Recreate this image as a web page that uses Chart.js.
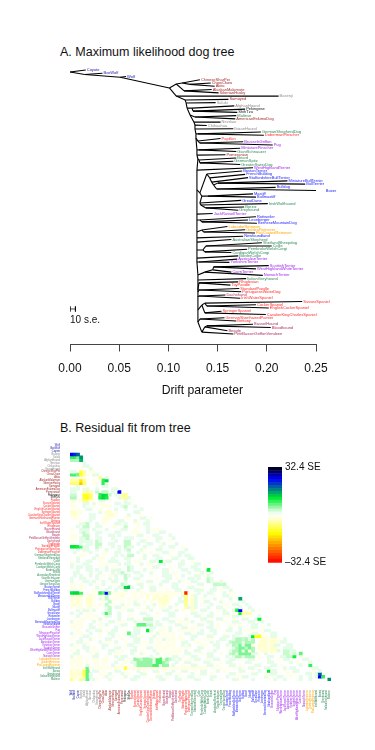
<!DOCTYPE html>
<html>
<head>
<meta charset="utf-8">
<title>Dog tree</title>
<script src="https://cdn.jsdelivr.net/npm/chart.js@4/dist/chart.umd.js"></script>
<style>
html, body { margin: 0; padding: 0; background: #fff; }
canvas { position: absolute; }
.panel { position: absolute; left: 60px; font: 12.5px "Liberation Sans", Arial, sans-serif; color: #111; white-space: nowrap; }
</style>
</head>
<body>
<div class="panel" style="top:45px">A. Maximum likelihood dog tree</div>
<div class="panel" style="top:421px">B. Residual fit from tree</div>
<canvas id="treeChart" width="375" height="410" style="left:0;top:0"></canvas>
<canvas id="heatChart" width="375" height="340" style="left:0;top:410px"></canvas>
<canvas id="barChart" width="115" height="130" style="left:260px;top:450px"></canvas>
<script>
var FONT = '"Liberation Sans", Arial, sans-serif';

// tips, top to bottom in tree order
var tipNames = ["Coyote","BoxWolf","Wolf","ChineseSharPei","ChowChow","Akita","AlaskanMalamute","SiberianHusky","Basenji","Samoyed",
  "Saluki","AfghanHound","Pekingese","ShihTzu","Maltese","AmericanEskimoDog","Nevrlaur","Chihuahua","IbizanHound","GermanShepherdDog",
  "DobermanPinscher","Papillon","BrusselsGriffon","Pug","MiniaturePinscher","GiantSchnauzer","Pomeranian","Briard","GermanSpitz","GreaterSwissDog",
  "WestHighlandTerrier","BostonTerrier","FrenchBulldog","StaffordshireBullTerrier","MiniatureBullTerrier","BullTerrier","Bulldog","Boxer","Mastiff","Bullmastiff",
  "GreatDane","IrishWolfhound","Borzoi","Greyhound","JackRussellTerrier","Rottweiler","Leonberger","BerneseMountainDog","LabradorRetriever","GoldenRetriever",
  "FlatCoatedRetriever","Newfoundland","AustralianShepherd","ShetlandSheepdog","Collie","PembrokeWelshCorgi","CardiganWelshCorgi","BorderCollie","AustralianTerrier","YorkshireTerrier",
  "ScottishTerrier","WestHighlandWhiteTerrier","CairnTerrier","NorwichTerrier","ItalianGreyhound","Rhodesian","ToyPoodle","StandardPoodle","PortugueseWaterDog","Dachshund",
  "IrishWaterSpaniel","SussexSpaniel","CockerSpaniel","EnglishCockerSpaniel","SpringerSpaniel","CavalierKingCharlesSpaniel","GermanShorthairedPointer","Brittany","BassetHound","Bloodhound",
  "Beagle","PetitBassetGriffonVendeen"];
var tipDrift = [.016,.033,.057,.132,.143,.147,.144,.151,.212,.161,
  .148,.167,.178,.170,.169,.168,.153,.139,.166,.194,
  .197,.153,.176,.206,.173,.169,.158,.169,.166,.173,
  .186,.175,.178,.181,.221,.239,.209,.259,.186,.189,
  .174,.201,.177,.171,.145,.189,.181,.190,.160,.178,
  .188,.176,.164,.195,.205,.180,.164,.171,.170,.162,
  .202,.189,.164,.196,.179,.171,.163,.172,.174,.158,
  .173,.236,.189,.202,.154,.199,.157,.169,.186,.204,
  .160,.166];
var tipParent = [0,1,2,5,6,6,7,7,8,9,
  10,12,13,13,15,15,16,17,18,20,
  20,22,23,23,25,25,26,28,29,29,
  30,33,34,35,37,37,38,38,40,40,
  41,42,43,43,44,46,47,47,49,50,
  50,51,52,55,55,56,56,57,59,59,
  63,63,62,61,64,66,66,68,68,70,
  70,73,74,74,75,75,77,77,80,80,
  79,78];
var tipGroup = [0,0,0,1,1,1,1,1,2,1,
  2,2,3,3,4,1,2,2,2,4,
  5,5,7,7,7,4,1,4,4,4,
  7,8,8,8,8,8,8,8,8,8,
  8,4,4,4,7,8,8,8,9,9,
  9,8,4,4,4,4,4,4,7,7,
  7,7,7,7,4,5,5,5,5,6,
  5,5,5,5,5,5,5,5,6,6,
  6,6];
var groupColors = ["#2222aa","#a52a2a","#8c8c8c","#111111","#2e8b57","#ff2a2a","#b03060","#a020f0","#1a1aff","#ffa500"];

// inner nodes of the tree
var nodeDrift = [0,.015,.051,.101,.108,.114,.122,.116,.108,.117,
  .118,.119,.124,.125,.122,.127,.126,.127,.127,.128,
  .130,.128,.130,.132,.129,.131,.129,.130,.131,.132,
  .129,.129,.132,.139,.142,.144,.146,.150,.149,.134,
  .140,.132,.133,.138,.129,.129,.132,.134,.129,.134,
  .136,.129,.129,.129,.135,.138,.137,.129,.129,.131,
  .130,.137,.145,.146,.130,.130,.131,.130,.131,.130,
  .131,.130,.134,.137,.139,.137,.130,.132,.134,.137,
  .139];
var nodeRow = [.6,1.4,2.2,5.5,4.3,4,4.4,6.4,8,9.2,
  10.1,11.7,11.7,12.6,13.8,14.4,16,16.9,18.1,19.6,
  19.6,20.9,21.8,22.4,24.5,24.5,26.1,27.3,27.6,28.5,
  30.7,36.8,37.7,31.9,33.1,34.4,35.3,34.7,36.5,38.7,
  38.7,40.8,41.4,42.3,44.2,46,46,46.6,49.7,49.1,
  49.7,51.5,52.8,55.2,55.2,54,55.8,57.7,58.9,58.9,
  62.9,62,61.3,60.4,64.4,67.5,65.3,68.1,67.5,69.6,
  69.3,73.6,72.1,71.5,72.4,74.5,77.3,76.4,80.4,78.8,
  78.5];
var nodeParent = [-1,0,1,2,3,4,5,4,3,8,
  9,10,11,12,11,14,14,16,17,18,
  19,19,21,22,21,24,24,26,27,28,
  27,30,31,32,33,34,35,36,36,32,
  39,39,41,42,31,44,45,46,45,48,
  49,48,51,52,53,54,54,53,57,58,
  58,60,61,62,60,64,65,65,67,67,
  69,69,71,72,73,72,71,76,76,78,
  79];

var scaleBarDrift = [0, .0055];
var scaleBarRow = 73.3;
var scaleBarText = "10 s.e.";
var scaleTextRow = 76.9;
var driftTicks = [0, .05, .1, .15, .2, .25];
var driftTitle = "Drift parameter";

// residual matrix, rows and columns use this order of tips
var heatOrder = [2,1,0, 8,10,11,16,17,18, 3,4,5,6,7,9,15,26, 12,13,
  21,71,72,73,74,75,76,77,70,65,
  78,79,80,81,69,
  66,67,68,20,
  19,53,54,55,56,57,27,52,25,28,29,
  31,32,33,34,35,36,37,38,39,40,45,46,47,51,
  22,23,24,30,44,58,59,60,61,62,63,
  48,49,50,
  41,42,43,64,14];

// faint background of the matrix: g/h small positive, y/z small negative
var residualLevels = { g: 1.4, h: 3.2, y: -1.5, z: -3.2 };
var residualRows = [
".",
"..",
"...",
"....",
"ggg..",
"ggg...",
"....g..",
"....gg..",
"...y..g..",
"gg..y.yy..",
"....yy.gg..",
"...y.....y.g",
"...yy..y..g..",
".......yy..g..",
"..g.y.....gg...",
"ggg.gg..g....gg.",
"gg..y...h.hh.g...",
"..............gg..",
"...............g.gg",
"yyyy..yy.gg.y....g.yy",
"y...gg.g.yy...gg.gg..g.",
"yy..g..y..yyy...gh..g...",
"..y..gg..y....g..g....gg.",
"zzyy.....g.zz.y.....gg..g.",
"yzy...gg...yzzy...g...y..gg",
"yyy...gg..yzy....yy...gg.y...",
"...y..g...yy...gg...g...g..gg.",
"...ggh..g.y...gg.g..yy.gg.....g",
"..g.hh..gg...yy..h...y..g....gg.",
"y..ggg.g...g....gg..y...g.yy..g..",
"...ghg..gg....gg...yyy..g...gg...g",
"yy..hh..g...gg.g.....gg...gg...gg.",
"yy.ggh..gg...g...ggg....y..gg...g..",
"y..gggg.hg....g..hh...gg...g...y..gg",
"...g.gg.hh..gg...hh..g..gg..yg...g..g",
"....gg..hg...g.g.hgg...g....g..gg..y.g",
"..g.gg..g..g...g.gh...gy...gg...y...gg.",
".g..y.g...yy..gg..g..gy..y...gg...gg...g",
"...yy...g.y...g.g.hh...g..gg...y..g.gg..y",
"..g....g.yy..g...gg...yg...gg...gg...gg..g",
"y.g..gg..y..ggg...g.yy...gg...gg...g..y..gg",
"g...gg....yy...g.gg...g.yy...g....gg...gg..g.",
"g.gg.gg..y.g.yy...hg..y...gg...y..g...gg..y.gg",
"..g..gg.g..g.ggg..hg...g.y...gg....gg..gg...g.g.",
".gg...g..g...g.gh...gg...g...gg.yy...g..yg..gg..y",
".g.g..g.g.y.yyg..hg...g..y...ggg...g...gg.yg..g..y.",
"g..gg...g...g.g..h..gg.....y..gg.y...gg.g..hg...g.yg",
"g...gg.g..g..gg..g...y..gg...gg...gy..gg...hg..g..y..",
"yy.y..g.y.g..y..hg...gg..y..g...gg...y..gg...hhhhg...gg",
"yy.yy...g...g..gg..g..g..gg.y...gg...gg..y...g..gg.yy..y",
"...y...y...g..g..g...gy..gg...y..gg....ggg..gg.y..gg...yy",
"y.yy...y..y.yyyyyy.yy.yy.yyyyyyyyy.y.y..g..gg...g.yy.y.y..",
"yyzz.yzy.y.h..yyz...y.y.z.yz.zzyy..g..zg..g..y..gg...g.yy..",
"yzzy.zzy.g.h.yyy..y.yy..y.zyzzzy..g.g.zg.y...g.y..g.yg..yyz..",
"y.zy.zz...y.h...y.y.g..y.y.yzzz...gg.yzg..gg...g..y...gg.gyz...",
"yzyy.yzy.y.h.y..g.y.gg.y..g.yzy..g..g.zg.y..g...y..gg..g..yz....",
"y.yy.yy.y..gh.gg.y...y..g.y.yy.g.y...gzg...g..gg.y...g..gg.gy.....",
"..g.gg.g...gh...y.gg...y.g...gg..g.y..z..gg...y.g..gg...yg...y.g..",
"g..g.yy...g.h..g...y..gg...y...gg.....gg.y..g...gg.y..gg...g..gg.",
"..g..y.yy..gg..g..y.....g..y...gg...y..gg..gg...yy.gg.y....g...gg.",
".y.yy.y..g.y...g..gg.y.hhh...gg..y..g....gg.y.gg...y..gg..g..gg...g",
"g.yy...g.y..gg.yy...g...gg.g...gg.yy.yg..y.gg...y..gg...gg..g.yg...",
"yyyy..g..y.g....gg..y..hhh.gg....gg.y...gg..g.y...yy.y...gg...g..gg.",
"yy.y..gg.y....g.y...gg...gg..y.g...gg.yy...gg.y...g..g...gg.y...gg..g",
"..y..g..gg.y.gg.....gg...g..yy.g..yy.yy..g..gg...gg..g.yyy...gg...g..g",
"g.yy..g..y..gg...y..gg...y.g.y.yy...gg..gg...g..y...gg...gg.y..gg....gg",
".y..gg...y...g.y...gg.y...g.yyy.y.y...gg...gg...gg.g....gy...y.gg..gg..",
"y..g..gy...gg...y...gg...g.y.g.yy.yy..g...yyy..gg..g..h.g...z.yz.y.g...g",
"..gg.y...g.yy.g..y..gg.y.g.yy.y.y..gg..yy...g.g...h...g....y..yz..gg...gg",
"g.y.g.....gg..y...gg..y.y..yy.yyy..g.g...yy..gg..g..h.g..y.z..y.gg..gg...g",
".y..gg.y..g...gg.y..g...gg.y.yy.y.y.yy..gg....g..y.g...h...zy.yz...ggg...gg.",
"y.g..g.yy...gg..y..gg.y...g.yy..yyy.g..gg..y.g....g...g.y..y..y..g...gg..gg..",
".gg...y.g...g.yy...g..gy...g..yy.y..gg...y.gg..y..h.g....gg..g.y.....g..g..g..",
"g.yy...gg..y..g.gg...y...g.y.y..gg.y..gg...gg....g.g..g....y..gg..gg....y...gg.",
"yyyy.y.yy.yy...gg.y...h...g..g.hg.g..y.gg..y.gg...gg.y..gg....g..y.gg....gg.y..",
"yyyy.y.yy.yy..g..y.gg.....g...h..g..gg.y..gg...y.gg....gg.y...gg.....g.y...gg..",
"y.yy.g..y.y..g..y...g.......g...g..y..gg...gg.y...gg.y....gg...gg.y.....g..y..",
".y.yy.y.yy.yy.zyy.yy.z.yyy.yyy.yy.yy.y.yy.y.yy.y.y.y.gy.gg...gg....g.gg.....gg.y",
"zyzy...gg.y...gg.y...g.y..gg.y..g..gg..y.gg...g.y....gg..y.g...gg..y..gg....y.gg",
"zzzz..g..yy.g...g.y...gg...y..gg..y...g..gg.y.....gg.y...gg..y.gg...y.y...gg.g..",
"zzyy..g...yg.y...g..gg.y...gg.y..g...gg.y...gg...g..y.gg.....g.y.gg..y..g..g.gg..",
".yy.g..gy...g...y..gg....y..gg...gg.y..gg...g..y...gg.y..g....y.g..g...yg..g.y..."
];

// stronger cells read one by one
var peakRow = [3,3,3,4,4,4,4,5,5,5,5,9,9,10,10,10,10,10,11,12,12,12,12,12,12,12,13,13,13,13,13,13,
  16,16,16,16,17,17,17,17,17,17,17,17,17,17,17,18,18,18,18,18,18,18,18,18,18,19,19,
  35,35,35,35,40,43,49,49,51,51,51,51,51,51,51,51,51,51,
  52,53,54,55,56,53,57,57,58,58,58,58,58,60,62,62,62,64,65,66,66,66,72,73,76,78,79,80,80,81];
var peakCol = [0,1,2,0,1,2,3,0,1,2,3,3,4,0,1,2,3,4,9,0,1,2,3,4,10,11,0,1,2,3,4,10,
  4,5,6,15,0,1,4,5,6,9,10,11,12,16,17,0,1,4,5,6,9,10,11,16,17,4,5,
  0,1,2,3,28,43,17,18,0,1,2,3,9,10,11,12,36,35,
  36,36,36,36,36,53,53,52,53,54,55,56,11,59,21,22,23,24,18,57,58,59,72,70,75,62,78,78,79,81];
var peakSE = [24,22,19,9,9,6,16,4,4,4,14,-11,-5,8,8,6,-11,-5,-6,-5,-5,-5,-14,-6,9,12,-8,-8,-8,-17,-8,9,
  -5,-7,-4,24,3,3,-11,-11,-8,9,12,11,3,-5,-6,4,4,-10,-12,-8,10,12,10,-5,-6,-6,-7,
  11,11,10,8,11,11,12,13,11,12,12,8,9,7,24,5,-30,-4,
  -6,-7,-6,-6,-5,15,24,10,10,-5,-5,-5,8,11,7,7,7,11,7,11,-12,-12,7,10,9,11,19,24,9,16];

// wider patches, row and col ranges
var patchRowFrom = [67,69,67,74,74,71,77,78,78,77,77];
var patchRowTo = [73,72,71,76,76,73,81,81,79,77,77];
var patchColFrom = [51,53,60,20,26,67,5,0,3,14,17];
var patchColTo = [57,56,64,30,28,70,5,4,4,41,19];
var patchSE = [4,6,-3,5,8,3,7,-7,-9,-2,-10];

// colour bar levels and colour stops
var barLevels = [-32.4,-30,-28,-26,-24,-22,-20,-18,-16,-14,-12,-10,-8,-6,-4,-2,0,2,4,6,8,10,12,14,16,18,20,22,24,26,28,30,32.4];
var stopSE = [-32.4,-12.5,-4,0,3,11,17,24,32.4];
var stopColor = [[255,0,0],[255,255,0],[255,255,190],[255,255,255],[200,250,205],[0,235,50],[0,130,130],[0,0,255],[0,0,0]];

function seColor(v) {
  for (var i = 1; i < stopSE.length; i++) {
    if (v <= stopSE[i]) {
      var t = (v - stopSE[i - 1]) / (stopSE[i] - stopSE[i - 1]);
      var a = stopColor[i - 1], b = stopColor[i];
      return "rgb(" + Math.round(a[0] + (b[0] - a[0]) * t) + "," + Math.round(a[1] + (b[1] - a[1]) * t) + "," + Math.round(a[2] + (b[2] - a[2]) * t) + ")";
    }
  }
  return "rgb(0,0,0)";
}

Chart.defaults.font.family = FONT;
Chart.defaults.animation = false;
Chart.defaults.responsive = false;
Chart.defaults.plugins.legend.display = false;
Chart.defaults.plugins.tooltip.enabled = false;

function edge(x0, y0, x1, y1, width) {
  return {
    data: [{ x: x0, y: y0 }, { x: x1, y: y1 }],
    showLine: true,
    borderColor: "#000",
    borderWidth: width,
    pointRadius: 0
  };
}

var treeSets = [];
for (var n = 1; n < nodeDrift.length; n++) {
  var p = nodeParent[n];
  treeSets.push(edge(nodeDrift[p], nodeRow[p], nodeDrift[n], nodeRow[n], 1.1));
}
for (var t = 0; t < tipNames.length; t++) {
  var q = tipParent[t];
  treeSets.push(edge(nodeDrift[q], nodeRow[q], tipDrift[t], t, 1.1));
}
treeSets.push(edge(scaleBarDrift[0], scaleBarRow, scaleBarDrift[1], scaleBarRow, .7));
treeSets.push(edge(scaleBarDrift[0], scaleBarRow - .8, scaleBarDrift[0], scaleBarRow + .8, .7));
treeSets.push(edge(scaleBarDrift[1], scaleBarRow - .8, scaleBarDrift[1], scaleBarRow + .8, .7));

var tipLabels = {
  id: "tipLabels",
  afterDatasetsDraw: function (chart) {
    var ctx = chart.ctx, xs = chart.scales.x, ys = chart.scales.y;
    ctx.save();
    ctx.textBaseline = "middle";
    ctx.font = "4px " + FONT;
    for (var i = 0; i < tipNames.length; i++) {
      ctx.fillStyle = groupColors[tipGroup[i]];
      ctx.fillText(tipNames[i], xs.getPixelForValue(tipDrift[i]) + 1, ys.getPixelForValue(i));
    }
    ctx.fillStyle = "#111";
    ctx.font = "10px " + FONT;
    ctx.fillText(scaleBarText, xs.getPixelForValue(0), ys.getPixelForValue(scaleTextRow));
    // axis title sits right of the axis middle in the original
    ctx.font = "12.2px " + FONT;
    ctx.textAlign = "center";
    ctx.fillText(driftTitle, xs.getPixelForValue(.1345), xs.bottom - 19.3);
    ctx.restore();
  }
};

new Chart(document.getElementById("treeChart"), {
  type: "scatter",
  data: { datasets: treeSets },
  plugins: [tipLabels],
  options: {
    layout: { padding: { left: 70, right: 59, top: 60, bottom: 0 } },
    scales: {
      y: { display: false, reverse: true, min: -3.07, max: 84.2 },
      x: {
        type: "linear",
        min: 0,
        max: .25,
        afterBuildTicks: function (s) { s.ticks = driftTicks.map(function (v) { return { value: v }; }); },
        afterFit: function (s) { s.height = 65.5; },
        border: { color: "#444", width: 1 },
        grid: { drawOnChartArea: false, tickLength: 7, tickColor: "#444" },
        ticks: {
          maxRotation: 0,
          padding: 10,
          color: "#111",
          font: { size: 12 },
          callback: function (v) { return v.toFixed(2); }
        }
      }
    }
  }
});

// build the matrix values
var matrix = [];
for (var r = 0; r < heatOrder.length; r++) {
  matrix.push([]);
  for (var c = 0; c <= r; c++) matrix[r].push(0);
}
for (var k = 0; k < patchSE.length; k++) {
  for (r = patchRowFrom[k]; r <= patchRowTo[k]; r++) {
    for (c = patchColFrom[k]; c <= patchColTo[k]; c++) {
      if (c <= r) matrix[r][c] = patchSE[k];
    }
  }
}
for (r = 0; r < heatOrder.length; r++) {
  for (c = 0; c <= r; c++) {
    var lvl = residualLevels[(residualRows[r] || "").charAt(c)];
    if (lvl) matrix[r][c] = lvl;
  }
}
for (k = 0; k < peakSE.length; k++) {
  if (peakCol[k] <= peakRow[k]) matrix[peakRow[k]][peakCol[k]] = peakSE[k];
}

var orderedNames = heatOrder.map(function (i) { return tipNames[i]; });
var orderedColors = heatOrder.map(function (i) { return groupColors[tipGroup[i]]; });

var heatSets = matrix.map(function (cells, row) {
  var data = [], colors = [];
  for (var col = 0; col < heatOrder.length; col++) {
    var v = cells[col];
    data.push(v ? [row - .5, row + .5] : null);
    colors.push(v ? seColor(v) : "#fff");
  }
  return { data: data, backgroundColor: colors, barPercentage: 1, categoryPercentage: 1, grouped: false, borderWidth: 0 };
});

new Chart(document.getElementById("heatChart"), {
  type: "bar",
  data: { labels: orderedNames, datasets: heatSets },
  options: {
    layout: { padding: { left: 0, right: 44, top: 34.3, bottom: 0 } },
    scales: {
      x: {
        afterFit: function (s) { s.height = 69; },
        border: { display: false },
        grid: { display: false, drawTicks: false },
        ticks: {
          autoSkip: false,
          minRotation: 90,
          maxRotation: 90,
          padding: 9,
          font: { size: 2.6 },
          color: function (ctx) { return orderedColors[ctx.index]; }
        }
      },
      y: {
        reverse: true,
        min: -.5,
        max: 81.5,
        afterBuildTicks: function (s) { s.ticks = heatOrder.map(function (v, i) { return { value: i }; }); },
        afterFit: function (s) { s.width = 70; },
        border: { display: false },
        grid: { display: false, drawTicks: false },
        ticks: {
          autoSkip: false,
          padding: 10,
          font: { size: 2.6 },
          color: function (ctx) { return orderedColors[ctx.tick.value]; },
          callback: function (v) { return orderedNames[v]; }
        }
      }
    }
  }
});

var barSets = [];
for (var b = 1; b < barLevels.length; b++) {
  barSets.push({
    data: [[barLevels[b - 1], barLevels[b]]],
    backgroundColor: seColor((barLevels[b - 1] + barLevels[b]) / 2),
    barPercentage: 1,
    categoryPercentage: 1,
    grouped: false,
    borderWidth: 0
  });
}

new Chart(document.getElementById("barChart"), {
  type: "bar",
  data: { labels: [""], datasets: barSets },
  options: {
    layout: { padding: { left: 8, right: 0, top: 17, bottom: 17.3 } },
    scales: {
      x: { display: false },
      y: {
        position: "right",
        min: -32.4,
        max: 32.4,
        afterBuildTicks: function (s) { s.ticks = [{ value: -32.4 }, { value: 32.4 }]; },
        afterFit: function (s) { s.width = 93; },
        border: { display: false },
        grid: { display: false, drawTicks: false },
        ticks: {
          padding: 3,
          color: "#111",
          font: { size: 10 },
          callback: function (v) { return (v < 0 ? "\u2013" : "") + Math.abs(v).toFixed(1) + " SE"; }
        }
      }
    }
  }
});
</script>
</body>
</html>
